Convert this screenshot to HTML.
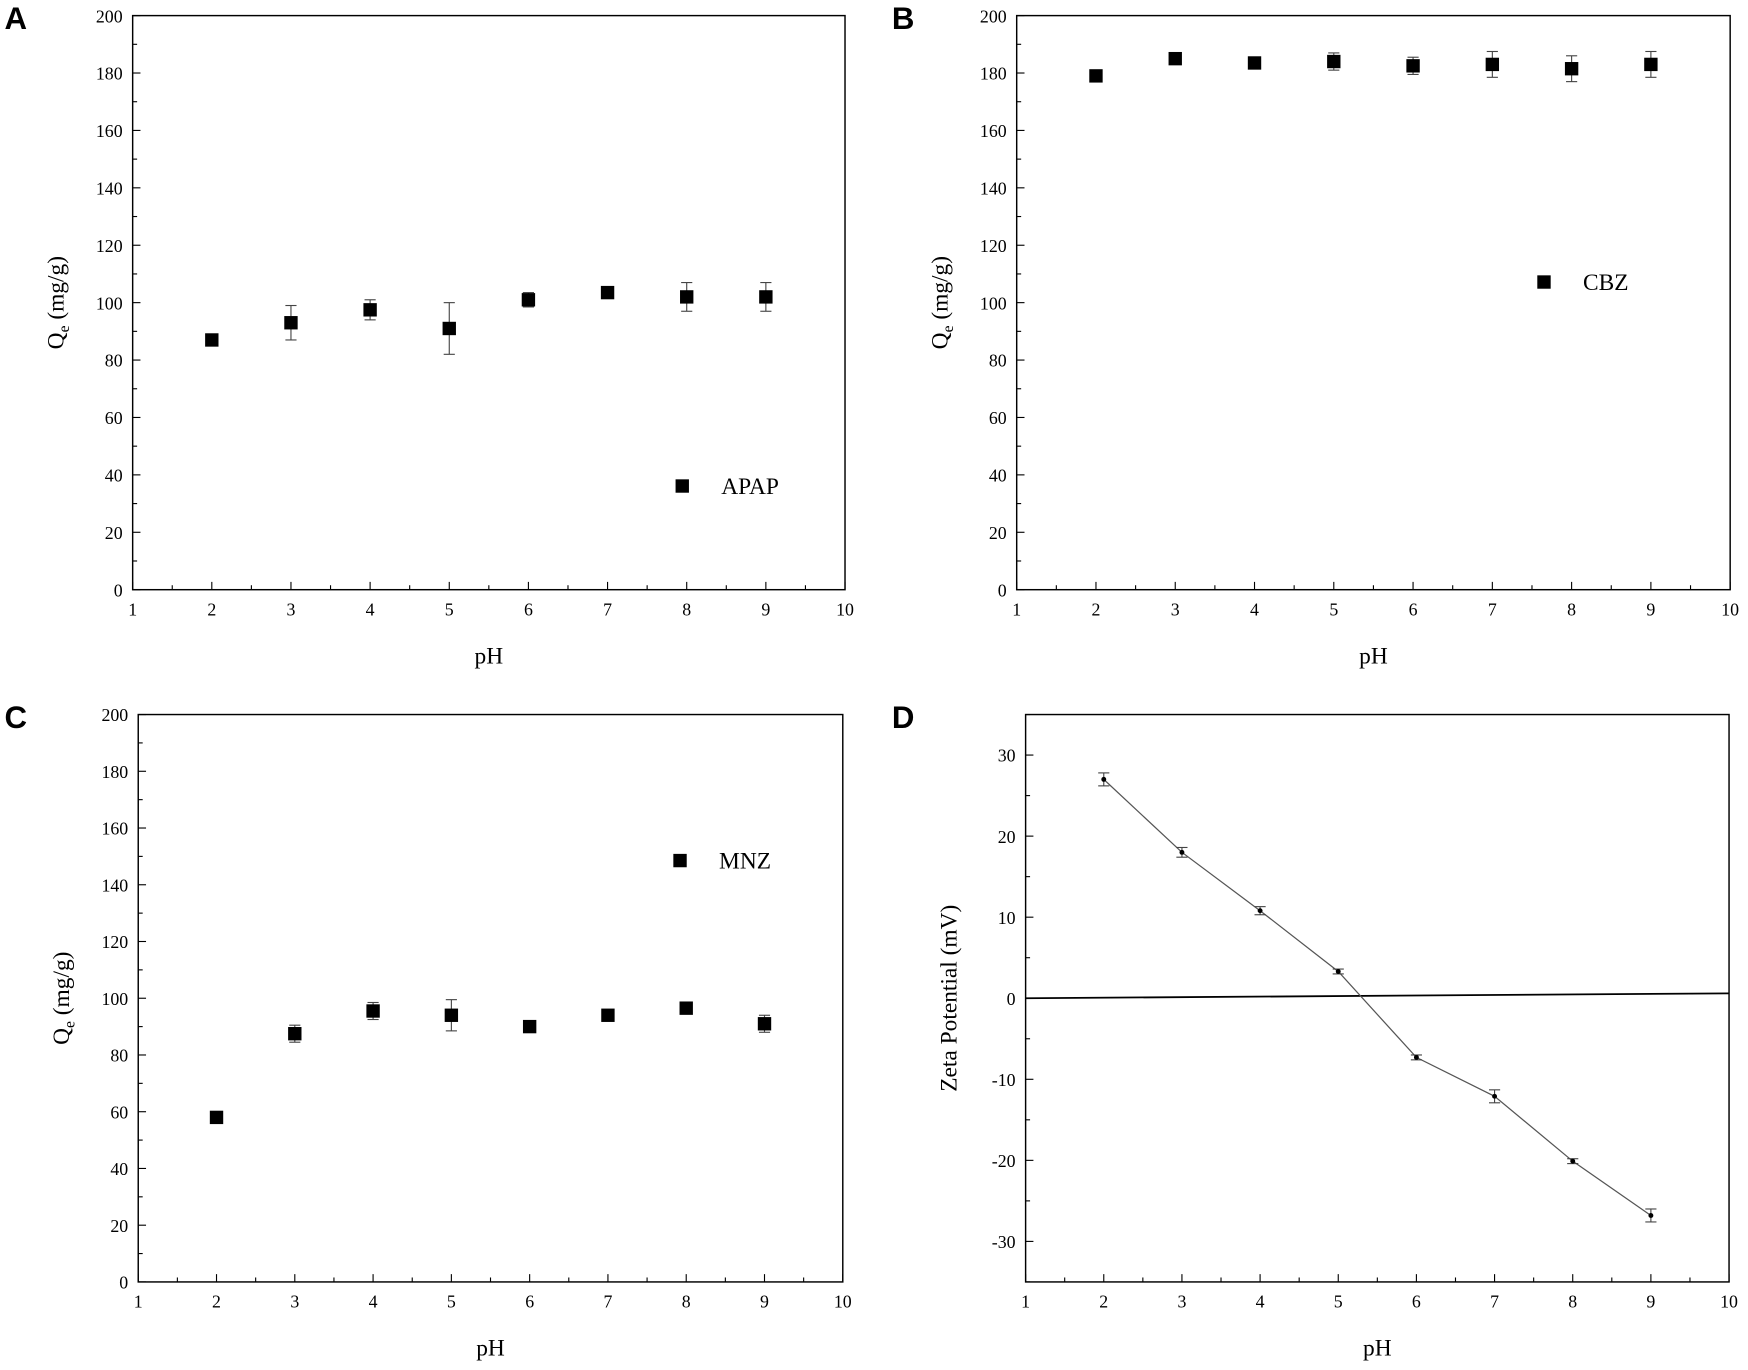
<!DOCTYPE html>
<html><head><meta charset="utf-8"><style>html,body{margin:0;padding:0;background:#fff}svg{display:block}</style></head>
<body>
<svg id="fig" width="1748" height="1370" viewBox="0 0 1568 1229" preserveAspectRatio="none" xmlns="http://www.w3.org/2000/svg" font-family="Liberation Serif, serif"></svg>
<script>
const phValues = [2,3,4,5,6,7,8,9];
const apapValues = [87,93,97.5,91,101,103.5,102,102];
const apapErr = [1,6,3.5,9,2.5,1,5,5];
const cbzValues = [179,185,183.5,184,182.5,183,181.5,183];
const cbzErr = [1.5,1,1,3,3,4.5,4.5,4.5];
const mnzValues = [58,87.5,95.5,94,90,94,96.5,91];
const mnzErr = [2,3,3,5.5,1,1,1,3];
const zetaValues = [27,18,10.8,3.3,-7.3,-12.1,-20.1,-26.8];
const zetaErr = [0.8,0.6,0.5,0.3,0.3,0.8,0.3,0.8];
const xTicks = [1,2,3,4,5,6,7,8,9,10];
const qTicks = [0,20,40,60,80,100,120,140,160,180,200];
const zTicks = [-30,-20,-10,0,10,20,30];
const zeroLineY = [0,0.6];

const NS='http://www.w3.org/2000/svg';
const svg=document.getElementById('fig');
function mk(tag,attrs,parent){const e=document.createElementNS(NS,tag);for(const k in attrs)e.setAttribute(k,attrs[k]);(parent||svg).appendChild(e);return e;}

function panel(p){
  const g=mk('g',{});
  
  
  const X=v=>p.l+(v-1)/9*(p.r-p.l);
  const Y=v=>p.b-(v-p.ymin)/(p.ymax-p.ymin)*(p.b-p.t);
  const frame=mk('rect',{x:p.l,y:p.t,width:p.r-p.l,height:p.b-p.t,fill:'none',stroke:'#000','stroke-width':1.3},g);
  
  
  // x ticks
  xTicks.forEach((v,i)=>{
    mk('line',{x1:X(v),x2:X(v),y1:p.b,y2:p.b-7,stroke:'#000','stroke-width':1},g);
    if(i<xTicks.length-1){const m=X(v+0.5);mk('line',{x1:m,x2:m,y1:p.b,y2:p.b-4,stroke:'#000','stroke-width':1},g);}
    const t=mk('text',{x:X(v),y:p.b+23,'font-size':16,'text-anchor':'middle'},g);t.textContent=v;
    
    
  });
  p.ticks.forEach((v,i)=>{
    mk('line',{x1:p.l,x2:p.l+7,y1:Y(v),y2:Y(v),stroke:'#000','stroke-width':1},g);
    if(i<p.ticks.length-1){const step=p.ticks[1]-p.ticks[0];const m=Y(v+step/2);mk('line',{x1:p.l,x2:p.l+4,y1:m,y2:m,stroke:'#000','stroke-width':1},g);}
    const t=mk('text',{x:p.l-9,y:Y(v)+6,'font-size':16,'text-anchor':'end'},g);t.textContent=v;
    
    
  });
  if(p.ymin<p.ticks[0]){const step=p.ticks[1]-p.ticks[0];[p.ticks[0]-step/2,p.ticks[p.ticks.length-1]+step/2].forEach(v=>{mk('line',{x1:p.l,x2:p.l+4,y1:Y(v),y2:Y(v),stroke:'#000','stroke-width':1},g);});}
  const xt=mk('text',{x:(p.l+p.r)/2,y:p.b+66,'font-size':21,'text-anchor':'middle'},g);xt.textContent='pH';
  
  
  const yt=mk('text',{x:0,y:0,'font-size':21,'text-anchor':'middle',transform:`translate(${p.l-62},${(p.t+p.b)/2}) rotate(-90)`},g);
  
  
  if(p.zeta){yt.textContent='Zeta Potential (mV)';}
  else{yt.innerHTML='Q<tspan font-size="14" dy="5">e</tspan><tspan dy="-5"> (mg/g)</tspan>';}
  const lab=mk('text',{x:p.lx,y:p.t+12,'font-size':28,'font-weight':'bold','font-family':'Liberation Sans, sans-serif'},g);lab.textContent=p.id;
  
  
  if(p.zeta){
    const l0=mk('line',{x1:X(1),y1:Y(zeroLineY[0]),x2:X(10),y2:Y(zeroLineY[1]),stroke:'#000','stroke-width':1.6},g);
    
    
    const pl=mk('polyline',{points:phValues.map((x,i)=>X(x)+','+Y(p.vals[i])).join(' '),fill:'none',stroke:'#555','stroke-width':1.1},g);
    
    
  }
  phValues.forEach((x,i)=>{
    const cx=X(x),cy=Y(p.vals[i]),e=p.err[i];
    const y1=Y(p.vals[i]+e),y2=Y(p.vals[i]-e);
    mk('line',{x1:cx,x2:cx,y1:y1,y2:y2,stroke:'#444','stroke-width':1},g);
    mk('line',{x1:cx-5,x2:cx+5,y1:y1,y2:y1,stroke:'#444','stroke-width':1},g);
    mk('line',{x1:cx-5,x2:cx+5,y1:y2,y2:y2,stroke:'#444','stroke-width':1},g);
    let m;
    if(p.zeta) m=mk('circle',{cx:cx,cy:cy,r:2.2,fill:'#000'},g);
    else m=mk('rect',{x:cx-6,y:cy-6,width:12,height:12,fill:'#000'},g);
    
    
  });
  if(p.leg){
    const lg=mk('g',{},g);
    
    
    mk('rect',{x:p.leg[0]-6,y:p.leg[1]-6,width:12,height:12,fill:'#000'},lg);
    const t=mk('text',{x:p.leg[0]+35,y:p.leg[1]+7,'font-size':21},lg);t.textContent=p.name;
  }
}
panel({id:'A',l:119,r:758,t:14,b:529,ymin:0,ymax:200,ticks:qTicks,vals:apapValues,err:apapErr,lx:4,leg:[612,436],name:'APAP'});
panel({id:'B',l:912,r:1552,t:14,b:529,ymin:0,ymax:200,ticks:qTicks,vals:cbzValues,err:cbzErr,lx:800,leg:[1385,253],name:'CBZ'});
panel({id:'C',l:124,r:756,t:641,b:1150,ymin:0,ymax:200,ticks:qTicks,vals:mnzValues,err:mnzErr,lx:4,leg:[610,772],name:'MNZ'});
panel({id:'D',l:920,r:1551,t:641,b:1150,ymin:-35,ymax:35,ticks:zTicks,vals:zetaValues,err:zetaErr,lx:800,zeta:true});
</script>
</body></html>
